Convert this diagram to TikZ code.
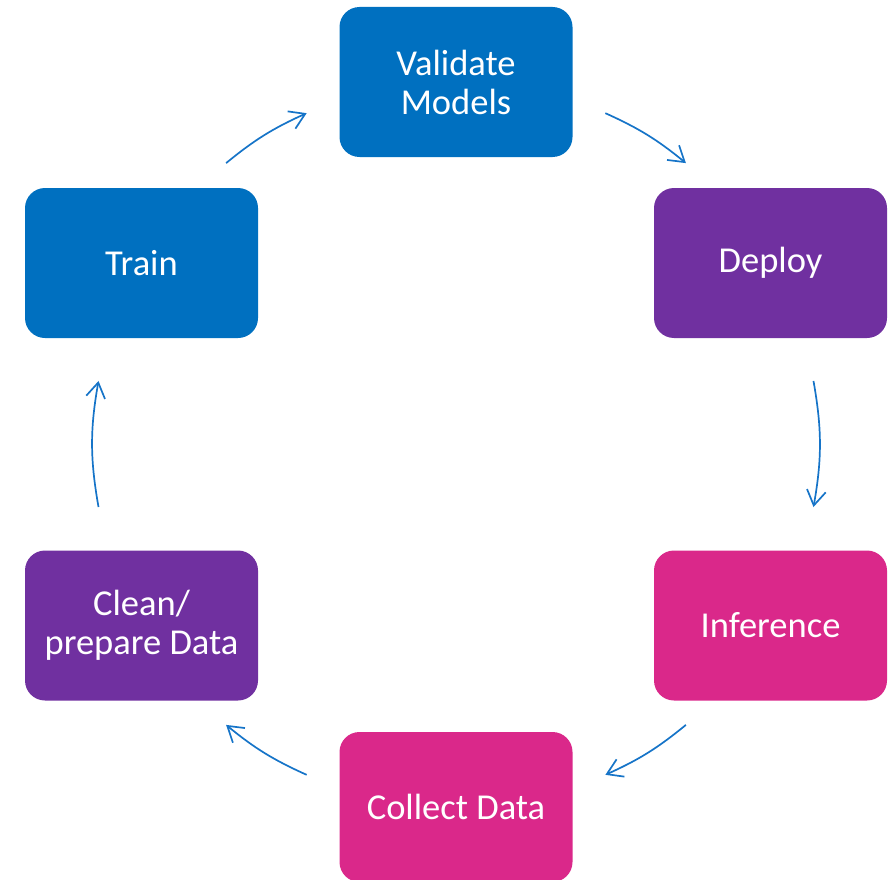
\documentclass[tikz,border=0pt]{standalone}
\usepackage{fontspec}
\setmainfont{Carlito}
\usetikzlibrary{arrows.meta}
\definecolor{cycblue}{RGB}{0,112,192}
\definecolor{cycpurple}{RGB}{112,48,160}
\definecolor{cycpink}{RGB}{218,40,138}
\definecolor{arrowblue}{RGB}{22,116,200}

\begin{document}
\begin{tikzpicture}[x=1pt,y=1pt]
\tikzstyle{stage}=[rounded corners=20pt, minimum width=233pt, minimum height=150pt, inner sep=0pt, text=white, align=center, font=\fontsize{36.5}{39}\selectfont]
\tikzstyle{flow}=[arrowblue, line width=1.7pt, -{Straight Barb[length=15pt,width=19pt]}]
\useasboundingbox (0,0) rectangle (891,-880);
% the six stages
\node [stage, fill=cycblue] (validate) at (456,-82) {Validate\\Models};
\node [stage, fill=cycpurple] (deploy) at (770.5,-263) {Deploy};
\node [stage, fill=cycpink] (inference) at (770.5,-625.5) {Inference};
\node [stage, fill=cycpink] (collect) at (456,-807) {Collect Data};
\node [stage, fill=cycpurple] (clean) at (141.5,-625.5) {Clean/\\prepare Data};
\node [stage, fill=cycblue] (train) at (141.5,-263) {Train};
% arrow ends sit on a circle round the middle
\coordinate (hub) at (456,-444);
\coordinate (tv0) at ([shift={(129.3:363)}]hub);
\coordinate (tv1) at ([shift={(114.3:363)}]hub);
\coordinate (vd0) at ([shift={(65.7:363)}]hub);
\coordinate (vd1) at ([shift={(50.7:363)}]hub);
\coordinate (di0) at ([shift={(10:363)}]hub);
\coordinate (di1) at ([shift={(-10:363)}]hub);
\coordinate (ic0) at ([shift={(-50.7:363)}]hub);
\coordinate (ic1) at ([shift={(-65.7:363)}]hub);
\coordinate (cc0) at ([shift={(-114.3:363)}]hub);
\coordinate (cc1) at ([shift={(-129.3:363)}]hub);
\coordinate (ct0) at ([shift={(190:363)}]hub);
\coordinate (ct1) at ([shift={(170:363)}]hub);
\draw [flow] (tv0) to [bend left=7.5] (tv1);
\draw [flow] (vd0) to [bend left=7.5] (vd1);
\draw [flow] (di0) to [bend left=10] (di1);
\draw [flow] (ic0) to [bend left=7.5] (ic1);
\draw [flow] (cc0) to [bend left=7.5] (cc1);
\draw [flow] (ct0) to [bend left=10] (ct1);
\end{tikzpicture}
\end{document}
